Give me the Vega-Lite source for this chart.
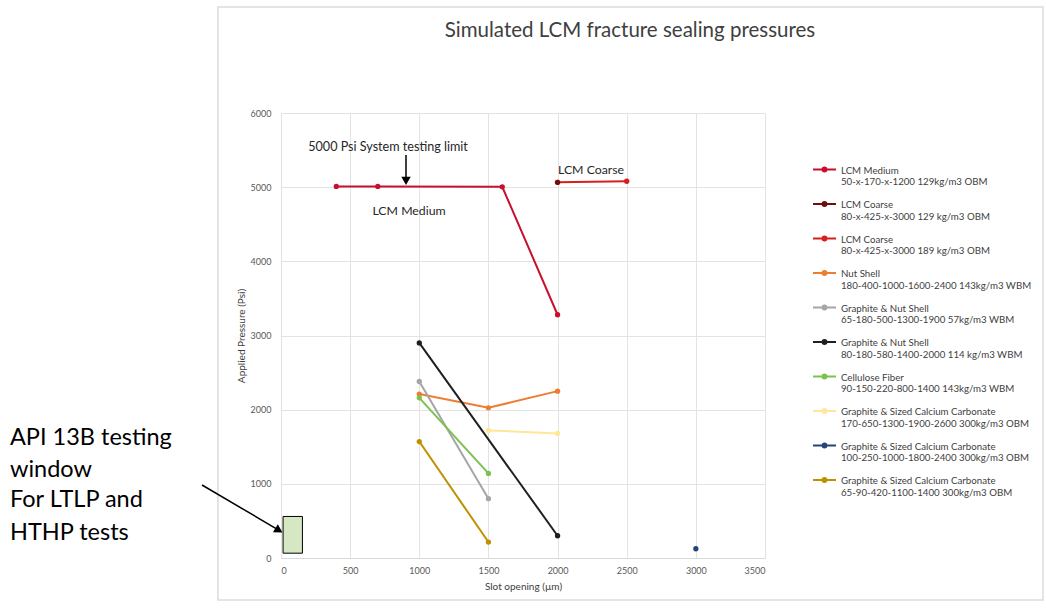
{
  "$schema": "https://vega.github.io/schema/vega-lite/v6.json",
  "autosize": {"type": "none"},
  "width": 484,
  "height": 445,
  "padding": {"left": 281, "top": 113, "right": 281, "bottom": 50},
  "background": "white",
  "config": {
    "font": "Lato",
    "view": {"stroke": null},
    "axis": {"labelFont": "Lato", "titleFont": "Lato", "labelColor": "#595959", "titleColor": "#404040", "labelFontSize": 9, "titleFontSize": 10, "titleFontWeight": "normal", "gridColor": "#e3e3e3", "ticks": false}
  },
  "title": {"text": "Simulated LCM fracture sealing pressures", "fontSize": 20.5, "fontWeight": "normal", "color": "#404040", "font": "Lato", "anchor": "middle", "dx": 107, "offset": 0, "dy": 35},
  "datasets": {
    "series": [
      {"series": "LCM Medium|50-x-170-x-1200 129kg/m3 OBM", "slot": 400, "pressure": 5010},
      {"series": "LCM Medium|50-x-170-x-1200 129kg/m3 OBM", "slot": 700, "pressure": 5010},
      {"series": "LCM Medium|50-x-170-x-1200 129kg/m3 OBM", "slot": 1600, "pressure": 5005},
      {"series": "LCM Medium|50-x-170-x-1200 129kg/m3 OBM", "slot": 2000, "pressure": 3280},
      {"series": "LCM Coarse|80-x-425-x-3000 189 kg/m3 OBM", "slot": 2000, "pressure": 5065},
      {"series": "LCM Coarse|80-x-425-x-3000 189 kg/m3 OBM", "slot": 2500, "pressure": 5080},
      {"series": "LCM Coarse|80-x-425-x-3000 129 kg/m3 OBM", "slot": 2000, "pressure": 5065},
      {"series": "Nut Shell|180-400-1000-1600-2400 143kg/m3 WBM", "slot": 1000, "pressure": 2210},
      {"series": "Nut Shell|180-400-1000-1600-2400 143kg/m3 WBM", "slot": 1500, "pressure": 2025},
      {"series": "Nut Shell|180-400-1000-1600-2400 143kg/m3 WBM", "slot": 2000, "pressure": 2250},
      {"series": "Graphite & Nut Shell|65-180-500-1300-1900 57kg/m3 WBM", "slot": 1000, "pressure": 2380},
      {"series": "Graphite & Nut Shell|65-180-500-1300-1900 57kg/m3 WBM", "slot": 1500, "pressure": 800},
      {"series": "Graphite & Nut Shell|80-180-580-1400-2000 114 kg/m3 WBM", "slot": 1000, "pressure": 2900},
      {"series": "Graphite & Nut Shell|80-180-580-1400-2000 114 kg/m3 WBM", "slot": 2000, "pressure": 300},
      {"series": "Cellulose Fiber|90-150-220-800-1400 143kg/m3 WBM", "slot": 1000, "pressure": 2160},
      {"series": "Cellulose Fiber|90-150-220-800-1400 143kg/m3 WBM", "slot": 1500, "pressure": 1140},
      {"series": "Graphite & Sized Calcium Carbonate|170-650-1300-1900-2600 300kg/m3 OBM", "slot": 1500, "pressure": 1720},
      {"series": "Graphite & Sized Calcium Carbonate|170-650-1300-1900-2600 300kg/m3 OBM", "slot": 2000, "pressure": 1680},
      {"series": "Graphite & Sized Calcium Carbonate|100-250-1000-1800-2400 300kg/m3 OBM", "slot": 3000, "pressure": 125},
      {"series": "Graphite & Sized Calcium Carbonate|65-90-420-1100-1400 300kg/m3 OBM", "slot": 1000, "pressure": 1570},
      {"series": "Graphite & Sized Calcium Carbonate|65-90-420-1100-1400 300kg/m3 OBM", "slot": 1500, "pressure": 215}
    ],
    "frame": [{"x": -456, "x2": 5510, "y": 7429, "y2": -566}],
    "box": [{"x": 15, "x2": 155, "y": 65, "y2": 560}],
    "bigtext": [
      {"x": -1960, "y": 1618, "text": "API 13B testing"},
      {"x": -1960, "y": 1186, "text": "window"},
      {"x": -1960, "y": 782, "text": "For LTLP and"},
      {"x": -1960, "y": 337, "text": "HTHP tests"}
    ],
    "smalltext": [
      {"x": 774, "y": 5542, "text": "5000 Psi System testing limit", "kind": "a"},
      {"x": 926, "y": 4678, "text": "LCM Medium", "kind": "b"},
      {"x": 2242, "y": 5231, "text": "LCM Coarse", "kind": "b"}
    ],
    "arrows": [
      {"x": -571, "y": 984, "x2": -20, "y2": 380},
      {"x": 904, "y": 5434, "x2": 904, "y2": 5110}
    ],
    "heads": [
      {"x": -15, "y": 372, "shape": "triangle-right", "angle": 31},
      {"x": 904, "y": 5085, "shape": "triangle-down", "angle": 0}
    ]
  },
  "layer": [
    {
      "data": {"name": "frame"},
      "mark": {"type": "rect", "fill": null, "stroke": "#dcdcdc", "strokeWidth": 1.5},
      "encoding": {
        "x": {"field": "x", "type": "quantitative", "scale": {"domain": [0, 3500], "nice": false, "zero": false}, "axis": {"values": [0, 500, 1000, 1500, 2000, 2500, 3000, 3500], "title": "Slot opening (µm)", "labelPadding": 8, "titlePadding": 6, "domainColor": "#d9d9d9", "format": "d"}},
        "x2": {"field": "x2"},
        "y": {"field": "y", "type": "quantitative", "scale": {"domain": [0, 6000], "nice": false, "zero": false}, "axis": {"values": [0, 1000, 2000, 3000, 4000, 5000, 6000], "title": "Applied Pressure (Psi)", "labelPadding": 10, "titlePadding": 4, "domain": false, "format": "d"}},
        "y2": {"field": "y2"}
      }
    },
    {
      "data": {"name": "box"},
      "mark": {"type": "rect", "fill": "#d6e8c3", "stroke": "#000000", "strokeWidth": 1},
      "encoding": {
        "x": {"field": "x", "type": "quantitative"},
        "x2": {"field": "x2"},
        "y": {"field": "y", "type": "quantitative"},
        "y2": {"field": "y2"}
      }
    },
    {
      "data": {"name": "bigtext"},
      "mark": {"type": "text", "align": "left", "baseline": "middle", "fontSize": 23.5, "color": "#000000", "font": "Lato"},
      "encoding": {
        "x": {"field": "x", "type": "quantitative"},
        "y": {"field": "y", "type": "quantitative"},
        "text": {"field": "text"}
      }
    },
    {
      "data": {"name": "smalltext"},
      "mark": {"type": "text", "align": "center", "baseline": "middle", "color": "#262626", "font": "Lato"},
      "encoding": {
        "x": {"field": "x", "type": "quantitative"},
        "y": {"field": "y", "type": "quantitative"},
        "text": {"field": "text"},
        "size": {"field": "kind", "type": "nominal", "scale": {"domain": ["a", "b"], "range": [12.6, 12.3]}, "legend": null}
      }
    },
    {
      "data": {"name": "arrows"},
      "mark": {"type": "rule", "color": "#000000", "strokeWidth": 1.5},
      "encoding": {
        "x": {"field": "x", "type": "quantitative"},
        "y": {"field": "y", "type": "quantitative"},
        "x2": {"field": "x2"},
        "y2": {"field": "y2"}
      }
    },
    {
      "data": {"name": "heads"},
      "mark": {"type": "point", "filled": true, "color": "#000000", "size": 90, "opacity": 1},
      "encoding": {
        "x": {"field": "x", "type": "quantitative"},
        "y": {"field": "y", "type": "quantitative"},
        "shape": {"field": "shape", "type": "nominal", "scale": null, "legend": null},
        "angle": {"field": "angle", "type": "quantitative", "scale": null}
      }
    },
    {
      "data": {"name": "series"},
      "mark": {"type": "line"},
      "encoding": {
        "x": {"field": "slot", "type": "quantitative"},
        "y": {"field": "pressure", "type": "quantitative"},
        "detail": {"field": "series"},
        "color": {"field": "series", "type": "nominal",
          "scale": {
            "domain": [
              "LCM Medium|50-x-170-x-1200 129kg/m3 OBM",
              "LCM Coarse|80-x-425-x-3000 129 kg/m3 OBM",
              "LCM Coarse|80-x-425-x-3000 189 kg/m3 OBM",
              "Nut Shell|180-400-1000-1600-2400 143kg/m3 WBM",
              "Graphite & Nut Shell|65-180-500-1300-1900 57kg/m3 WBM",
              "Graphite & Nut Shell|80-180-580-1400-2000 114 kg/m3 WBM",
              "Cellulose Fiber|90-150-220-800-1400 143kg/m3 WBM",
              "Graphite & Sized Calcium Carbonate|170-650-1300-1900-2600 300kg/m3 OBM",
              "Graphite & Sized Calcium Carbonate|100-250-1000-1800-2400 300kg/m3 OBM",
              "Graphite & Sized Calcium Carbonate|65-90-420-1100-1400 300kg/m3 OBM"
            ],
            "range": ["#c8102e", "#6e1010", "#d81e1e", "#ed7d31", "#a5a5a5", "#1f1f1f", "#7cc24f", "#ffe699", "#264478", "#bf9000"]
          },
          "legend": {
            "orient": "none", "legendX": 531, "legendY": 44, "title": null,
            "labelExpr": "split(datum.label, '|')",
            "labelFontSize": 9.7, "labelLineHeight": 14, "labelColor": "#404040", "labelFont": "Lato",
            "labelLimit": 400, "labelBaseline": "top", "labelOffset": 4,
            "symbolType": "M-1,0L1,0M-0.17,0a0.17,0.17 0 1,0 0.34,0a0.17,0.17 0 1,0 -0.34,0",
            "symbolSize": 529, "symbolStrokeWidth": 2, "rowPadding": 4.5, "padding": 0,
            "encode": {"labels": {"update": {"dy": {"value": -4}}}}
          }
        },
        "strokeWidth": {"field": "series", "type": "nominal",
          "scale": {
            "domain": [
              "LCM Medium|50-x-170-x-1200 129kg/m3 OBM",
              "LCM Coarse|80-x-425-x-3000 129 kg/m3 OBM",
              "LCM Coarse|80-x-425-x-3000 189 kg/m3 OBM",
              "Nut Shell|180-400-1000-1600-2400 143kg/m3 WBM",
              "Graphite & Nut Shell|65-180-500-1300-1900 57kg/m3 WBM",
              "Graphite & Nut Shell|80-180-580-1400-2000 114 kg/m3 WBM",
              "Cellulose Fiber|90-150-220-800-1400 143kg/m3 WBM",
              "Graphite & Sized Calcium Carbonate|170-650-1300-1900-2600 300kg/m3 OBM",
              "Graphite & Sized Calcium Carbonate|100-250-1000-1800-2400 300kg/m3 OBM",
              "Graphite & Sized Calcium Carbonate|65-90-420-1100-1400 300kg/m3 OBM"
            ],
            "range": [2, 2, 1, 2, 2, 2, 1.5, 1.5, 1.5, 2]
          },
          "legend": null
        }
      }
    },
    {
      "data": {"name": "series"},
      "mark": {"type": "point", "filled": true, "size": 28, "opacity": 1},
      "encoding": {
        "x": {"field": "slot", "type": "quantitative"},
        "y": {"field": "pressure", "type": "quantitative"},
        "color": {"field": "series", "type": "nominal"}
      }
    }
  ]
}
